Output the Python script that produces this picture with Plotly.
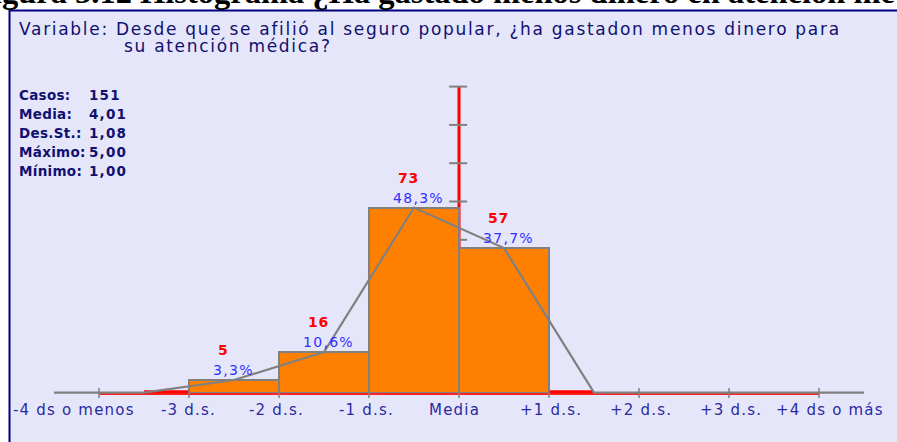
import json
import plotly.graph_objects as go

# ---------------- data ----------------
tick_labels = ["-4 ds o menos", "-3 d.s.", "-2 d.s.", "-1 d.s.", "Media",
               "+1 d.s.", "+2 d.s.", "+3 d.s.", "+4 ds o más"]
tick_pos = [-4, -3, -2, -1, 0, 1, 2, 3, 4]
bar_mid = [-2.5, -1.5, -0.5, 0.5]
bar_counts = [5, 16, 73, 57]
poly_x = [-4.5, -3.5, -2.5, -1.5, -0.5, 0.5, 1.5, 2.5, 3.5, 4.5]
poly_counts = [0, 0, 5, 16, 73, 57, 0, 0, 0, 0]
stat_names = ["Casos:", "Media:", "Des.St.:", "Máximo:", "Mínimo:"]
stat_values = ["151", "4,01", "1,08", "5,00", "1,00"]
pct_ticks = [10, 20, 30, 40, 50, 60, 70, 80]
heading = "Figura 5.12 Histograma ¿Ha gastado menos dinero en atención médica?"
var_line1 = "Variable: Desde que se afilió al seguro popular, ¿ha gastadon menos dinero para"
var_line2 = "su atención médica?"

total = sum(bar_counts)
bar_pct = [c / total * 100 for c in bar_counts]
poly_pct = [c / total * 100 for c in poly_counts]

# ---------------- geometry / style ----------------
W, H = 897, 442
X0PX, XS = 459, 90.0      # pixel of "Media", pixels per s.d.
Y0PX, YS = 393, 3.83      # baseline pixel, pixels per percent
xr = [-X0PX / XS, (W - X0PX) / XS]
yr = [(Y0PX - H) / YS, Y0PX / YS]
px = 1.0 / YS             # one pixel in percent units

NAVY = "#101070"
AXBLUE = "#2a2aa0"
GRAY = "#808080"
FONT = "DejaVu Sans"

def pxx(p):
    return p / W

def pxy(p):
    return 1 - p / H

fig = go.Figure()

# red baseline (slightly below gray axis)
fig.add_trace(go.Scatter(x=[tick_pos[0], tick_pos[-1]], y=[-0.9 * px, -0.9 * px],
                         mode="lines", line=dict(color="#ff2020", width=2),
                         hoverinfo="skip", showlegend=False))

# red segments where polygon is above zero but no bar
first_nz = next(i for i, c in enumerate(poly_counts) if c > 0) - 1
last_nz = max(i for i, c in enumerate(poly_counts) if c > 0) + 1
seg_left = [poly_x[first_nz], bar_mid[0] - 0.5]
seg_right = [bar_mid[-1] + 0.5, poly_x[last_nz]]
for seg in (seg_left, seg_right):
    fig.add_trace(go.Scatter(x=seg, y=[1.2 * px, 1.2 * px], mode="lines",
                             line=dict(color="#ff0000", width=3),
                             hoverinfo="skip", showlegend=False))

# bars
fig.add_trace(go.Bar(x=bar_mid, y=bar_pct, width=1,
                     marker=dict(color="#ff8000", line=dict(color=GRAY, width=2)),
                     hoverinfo="skip", showlegend=False))

# frequency polygon
fig.add_trace(go.Scatter(x=poly_x, y=[v + 0.3 * px for v in poly_pct], mode="lines",
                         line=dict(color=GRAY, width=2.2),
                         hoverinfo="skip", showlegend=False))

# ticks on the baseline
fig.add_trace(go.Scatter(x=tick_pos, y=[0] * len(tick_pos), mode="markers",
                         marker=dict(symbol="line-ns", size=7,
                                     line=dict(color=GRAY, width=1.5)),
                         hoverinfo="skip", showlegend=False))

shapes = [
    dict(type="rect", xref="paper", yref="paper",
         x0=pxx(9.5), x1=1.2, y0=-0.2, y1=pxy(10.5),
         fillcolor="#e6e6fa", line=dict(color="#000080", width=2), layer="below"),
    dict(type="line", xref="x", yref="y", x0=0, x1=0, y0=0, y1=pct_ticks[-1],
         line=dict(color="#ff0000", width=3), layer="below"),
]
for t in pct_ticks:
    shapes.append(dict(type="line", xref="x", yref="y", x0=-0.11, x1=0.09, y0=t, y1=t,
                       line=dict(color=GRAY, width=2), layer="below"))

ann = []
spacing = []   # letter spacing (px) for each annotation, same order


def add(a, ls=0.0):
    a.setdefault("showarrow", False)
    a.setdefault("align", "left")
    ann.append(a)
    spacing.append(ls)


# cut-off heading at the very top
add(dict(xref="paper", yref="paper", x=pxx(-29), y=pxy(12), xanchor="left",
         yanchor="bottom", text="<b>" + heading + "</b>",
         font=dict(family="Liberation Serif", size=32.5, color="black")))
# variable text
add(dict(xref="paper", yref="paper", x=pxx(17), y=pxy(29), xanchor="left",
         yanchor="middle", text=var_line1,
         font=dict(family=FONT, size=17, color=NAVY)), 1.7)
add(dict(xref="paper", yref="paper", x=pxx(122), y=pxy(46), xanchor="left",
         yanchor="middle", text=var_line2,
         font=dict(family=FONT, size=17, color=NAVY)), 1.7)
# stats
for i, (n, v) in enumerate(zip(stat_names, stat_values)):
    yy = pxy(95 + i * 19)
    add(dict(xref="paper", yref="paper", x=pxx(17), y=yy, xanchor="left",
             yanchor="middle", text="<b>" + n + "</b>",
             font=dict(family=FONT, size=13.5, color=NAVY)), 0.3)
    add(dict(xref="paper", yref="paper", x=pxx(87), y=yy, xanchor="left",
             yanchor="middle", text="<b>" + v + "</b>",
             font=dict(family=FONT, size=13.5, color=NAVY)), 1.2)
# bar labels
for m, c, p in zip(bar_mid, bar_counts, bar_pct):
    add(dict(x=m, y=p, xshift=-18, yshift=30, xanchor="left", yanchor="middle",
             text="<b>%d</b>" % c,
             font=dict(family=FONT, size=14, color="#ff0000")), 0.7)
    add(dict(x=m, y=p, xshift=-23, yshift=10, xanchor="left", yanchor="middle",
             text=("%.1f" % p).replace(".", ",") + "%",
             font=dict(family=FONT, size=14, color="#3030ff")), 1.3)
# axis tick labels (left edges relative to their tick)
label_shift = [-88, -30, -32, -32, -32, -31, -31, -31, -45]
for t, lab, s in zip(tick_pos, tick_labels, label_shift):
    add(dict(x=t, y=0, xshift=s, yshift=-17, xanchor="left", yanchor="middle",
             text=lab, font=dict(family=FONT, size=15, color=AXBLUE)), 1.2)

fig.update_layout(
    width=W, height=H, margin=dict(l=0, r=0, t=0, b=0),
    paper_bgcolor="white", plot_bgcolor="rgba(0,0,0,0)",
    xaxis=dict(range=xr, visible=False, fixedrange=True),
    yaxis=dict(range=yr, visible=False, fixedrange=True),
    shapes=shapes, annotations=ann, bargap=0,
)

post = (
    "document.body.style.margin='0';"
    "var sp=" + json.dumps(spacing) + ";"
    "document.querySelectorAll('g.annotation').forEach(function(g){"
    "var i=+g.getAttribute('data-index');"
    "var t=g.querySelector('text.annotation-text');"
    "if(t&&sp[i]){t.style.letterSpacing=sp[i]+'px';}});"
)

fig.write_html("out.html", post_script=post, config={"displayModeBar": False})
